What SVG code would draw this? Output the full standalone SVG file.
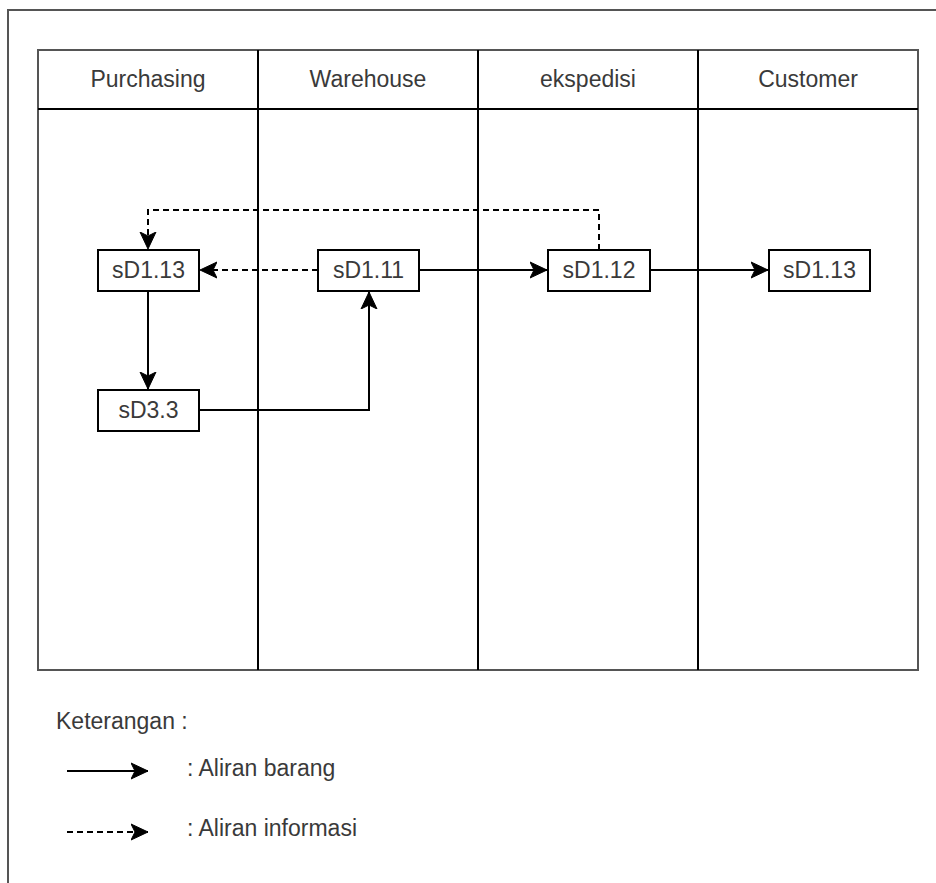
<svg xmlns="http://www.w3.org/2000/svg" width="936" height="883" viewBox="0 0 936 883">
  <style>
    .frame { fill: none; stroke: #555; stroke-width: 2; }
    .lane { fill: none; stroke: #000; stroke-width: 2; }
    .box { fill: #fff; stroke: #000; stroke-width: 2; }
    .lbl { font-family: "Liberation Sans", Arial, sans-serif; font-size: 23px; fill: #3a3a3a; }
    .mid { text-anchor: middle; }
    .flow { fill: none; stroke: #000; stroke-width: 2; }
    .info { stroke-dasharray: 6 4; }
  </style>
  <defs>
    <marker id="arrow" markerUnits="userSpaceOnUse" markerWidth="20" markerHeight="20" refX="17" refY="9" orient="auto">
      <path d="M0,1 L17,9 L0,17 L4,9 Z" fill="#000" stroke="#000" stroke-width="1" stroke-linejoin="miter"/>
    </marker>
  </defs>
  <rect width="936" height="883" fill="#fff"/>

  <!-- outer page frame -->
  <path class="frame" d="M8,883 V10 H936"/>

  <!-- swimlane table -->
  <g id="lanes">
    <rect class="frame" x="38" y="50" width="880" height="620"/>
    <line class="lane" x1="38" y1="109" x2="918" y2="109"/>
    <line class="lane" x1="258" y1="50" x2="258" y2="670"/>
    <line class="lane" x1="478" y1="50" x2="478" y2="670"/>
    <line class="lane" x1="698" y1="50" x2="698" y2="670"/>
    <text class="lbl mid" x="148" y="87">Purchasing</text>
    <text class="lbl mid" x="368" y="87">Warehouse</text>
    <text class="lbl mid" x="588" y="87">ekspedisi</text>
    <text class="lbl mid" x="808" y="87">Customer</text>
  </g>

  <!-- connectors -->
  <g id="connectors">
    <path class="flow info" d="M599,250 V210 H148 V249" marker-end="url(#arrow)"/>
    <path class="flow info" d="M318,270 H200" marker-end="url(#arrow)"/>
    <path class="flow" d="M419,270 H547" marker-end="url(#arrow)"/>
    <path class="flow" d="M650,270 H768" marker-end="url(#arrow)"/>
    <path class="flow" d="M148,291 V389" marker-end="url(#arrow)"/>
    <path class="flow" d="M199,410 H369 V292" marker-end="url(#arrow)"/>
  </g>

  <!-- nodes -->
  <g id="purchasing-sd1-13">
    <rect class="box" x="98" y="250" width="101" height="41"/>
    <text class="lbl mid" x="148.5" y="278">sD1.13</text>
  </g>
  <g id="warehouse-sd1-11">
    <rect class="box" x="318" y="250" width="101" height="41"/>
    <text class="lbl mid" x="368.5" y="278">sD1.11</text>
  </g>
  <g id="ekspedisi-sd1-12">
    <rect class="box" x="548" y="250" width="102" height="41"/>
    <text class="lbl mid" x="599" y="278">sD1.12</text>
  </g>
  <g id="customer-sd1-13">
    <rect class="box" x="769" y="250" width="101" height="41"/>
    <text class="lbl mid" x="819.5" y="278">sD1.13</text>
  </g>
  <g id="purchasing-sd3-3">
    <rect class="box" x="98" y="390" width="101" height="41"/>
    <text class="lbl mid" x="148.5" y="418">sD3.3</text>
  </g>

  <!-- legend -->
  <g id="legend">
    <text class="lbl" x="56" y="729">Keterangan :</text>
    <path class="flow" d="M67,771 H148" marker-end="url(#arrow)"/>
    <text class="lbl" x="187" y="776">: Aliran barang</text>
    <path class="flow info" d="M67,832 H148" marker-end="url(#arrow)"/>
    <text class="lbl" x="187" y="836">: Aliran informasi</text>
  </g>
</svg>
